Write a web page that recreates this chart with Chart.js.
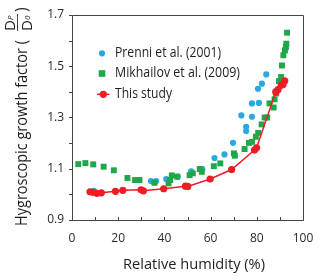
<!DOCTYPE html>
<html>
<head>
<meta charset="utf-8">
<script src="https://cdn.jsdelivr.net/npm/chart.js@4/dist/chart.umd.min.js"></script>
<style>
html,body{margin:0;padding:0;background:#fff;}
#wrap{width:320px;height:276px;}
</style>
</head>
<body>
<div id="wrap"><canvas id="c" width="320" height="276"></canvas></div>
<script>
// ---- Data ----
const prenniRH = [9.4, 34.2, 36.4, 40.8, 45.8, 51.6, 56.4, 61.7, 66.0, 69.7, 73.3, 75.4, 75.4, 77.9, 77.9, 80.5, 80.9, 82.2, 84.1];
const prenniGF = [1.014, 1.052, 1.052, 1.060, 1.069, 1.090, 1.099, 1.142, 1.156, 1.201, 1.308, 1.264, 1.247, 1.303, 1.355, 1.412, 1.357, 1.432, 1.468];

const mikhRH = [2.7, 5.8, 9.2, 13.7, 18.1, 24.0, 27.3, 29.2, 35.7, 41.8, 42.5, 43.2, 45.5, 50.9, 52.3, 55.3, 56.2, 61.4, 64.2, 70.1, 70.5, 74.7, 76.6, 77.9, 79.6, 80.6, 82.1, 83.4, 84.5, 85.5, 87.3, 87.7, 88.4, 89.6, 90.5, 90.9, 91.5, 92.2, 92.6, 92.8, 93.1];
const mikhGF = [1.118, 1.122, 1.117, 1.108, 1.094, 1.064, 1.056, 1.056, 1.045, 1.043, 1.056, 1.074, 1.069, 1.075, 1.082, 1.099, 1.088, 1.110, 1.121, 1.160, 1.151, 1.177, 1.201, 1.205, 1.225, 1.240, 1.273, 1.300, 1.300, 1.355, 1.339, 1.371, 1.394, 1.442, 1.458, 1.503, 1.543, 1.562, 1.575, 1.588, 1.631];

const studyRH = [7.8, 9.0, 10.8, 12.7, 18.8, 22.0, 29.9, 30.9, 39.7, 49.1, 50.1, 59.8, 69.1, 79.0, 79.9, 88.2, 89.2, 90.6, 91.3, 92.1];
const studyGF = [1.010, 1.008, 1.004, 1.006, 1.012, 1.016, 1.018, 1.014, 1.022, 1.032, 1.031, 1.060, 1.097, 1.173, 1.182, 1.400, 1.409, 1.426, 1.429, 1.443];

const seriesNames = ["Prenni et al. (2001)", "Mikhailov et al. (2009)", "This study"];
const xTickLabels = [0, 20, 40, 60, 80, 100];
const yTickLabels = [0.9, 1.1, 1.3, 1.5, 1.7];
const xMinorTicks = [0, 10, 20, 30, 40, 50, 60, 70, 80, 90, 100];
const yMinorTicks = [0.9, 1.0, 1.1, 1.2, 1.3, 1.4, 1.5, 1.6, 1.7];
const xTitle = "Relative humidity (%)";
const yTitle = "Hygroscopic growth factor (";

const toXY = (xs, ys) => xs.map((x, i) => ({x: x, y: ys[i]}));

const BLUE = '#2AA9E0', GREEN = '#1FA84A', RED = '#EE1C25';
const AXIS = '#444', TXT = '#1e1e1e', TICKTXT = '#2a2a2a';
const FONT = "'Open Sans', 'Noto Sans', sans-serif";

// draw text squeezed/stretched horizontally to a target width
function fitText(ctx, text, x, y, targetW, align) {
  const w = ctx.measureText(text).width;
  const sx = targetW / w;
  ctx.save();
  ctx.translate(x, y);
  ctx.scale(sx, 1);
  ctx.textAlign = 'left';
  let ox = 0;
  if (align === 'center') ox = -w / 2;
  else if (align === 'right') ox = -w;
  ctx.fillText(text, ox, 0);
  ctx.restore();
  return targetW;
}

const framePlugin = {
  id: 'frame',
  afterDraw(chart) {
    const ctx = chart.ctx, a = chart.chartArea;
    const xs = chart.scales.x, ys = chart.scales.y;
    ctx.save();
    ctx.strokeStyle = AXIS; ctx.lineWidth = 1;
    const L = Math.round(a.left), R = Math.round(a.right), T = Math.round(a.top), B = Math.round(a.bottom);
    ctx.beginPath();
    ctx.rect(L + 0.5, T + 0.5, R - L, B - T);
    ctx.stroke();
    ctx.beginPath();
    yMinorTicks.forEach(v => {
      const py = Math.round(ys.getPixelForValue(v)) + 0.5;
      ctx.moveTo(L - 3, py); ctx.lineTo(L + 0.5, py);
    });
    xMinorTicks.forEach(v => {
      const px = Math.round(xs.getPixelForValue(v)) + 0.5;
      ctx.moveTo(px, B + 0.5); ctx.lineTo(px, B - 3);
    });
    ctx.stroke();

    // tick labels
    ctx.fillStyle = TICKTXT;
    ctx.font = "12px " + FONT;
    ctx.textBaseline = 'middle';
    ctx.textAlign = 'right';
    yTickLabels.forEach(v => ctx.fillText(v.toFixed(1), 64, ys.getPixelForValue(v)));
    ctx.textAlign = 'center';
    xTickLabels.forEach(v => ctx.fillText(String(v), xs.getPixelForValue(v), 239));

    // x title
    ctx.fillStyle = TXT;
    ctx.font = "14px " + FONT;
    ctx.textBaseline = 'middle';
    fitText(ctx, xTitle, 194, 265, 142, 'center');

    // y title (rotated)
    ctx.save();
    ctx.translate(27, 226);
    ctx.rotate(-Math.PI / 2);
    ctx.textBaseline = 'alphabetic';
    ctx.font = "15.5px " + FONT;
    fitText(ctx, yTitle, 0, 0, 186, 'left');
    // fraction D_P / D_0
    const fx = 195;
    ctx.font = "15px " + FONT;
    ctx.textAlign = 'left';
    ctx.fillText("D", fx, -12);
    ctx.fillText("D", fx, 5);
    const dw = ctx.measureText("D").width;
    ctx.font = "italic 8px " + FONT;
    ctx.fillText("P", fx + dw, -14);
    ctx.fillText("0", fx + dw, 3);
    ctx.beginPath();
    ctx.lineWidth = 1;
    ctx.moveTo(fx, -9.5); ctx.lineTo(fx + dw + 6, -9.5);
    ctx.stroke();
    ctx.font = "15.5px " + FONT;
    ctx.fillText(")", fx + dw + 8, 0);
    ctx.restore();

    // legend
    ctx.font = "14px " + FONT;
    ctx.textBaseline = 'middle';
    const ds = chart.data.datasets;
    const rows = [53.3, 73.5, 94.3];
    const widths = [106, 125, 57];
    ds.forEach((d, r) => {
      const y = rows[r], mx = 102;
      if (d.showLine) {
        ctx.strokeStyle = d.borderColor; ctx.lineWidth = 1.5;
        ctx.beginPath(); ctx.moveTo(97, y); ctx.lineTo(109.5, y); ctx.stroke();
      }
      ctx.fillStyle = d.pointBackgroundColor;
      if (d.pointStyle === 'rect') {
        ctx.fillRect(mx - 3.3, y - 3.3, 6.6, 6.6);
      } else {
        ctx.beginPath(); ctx.arc(d.showLine ? 103.3 : mx, y, d.pointRadius, 0, Math.PI * 2); ctx.fill();
      }
      ctx.fillStyle = TXT;
      fitText(ctx, d.label, 115, y, widths[r], 'left');
    });
    ctx.restore();
  }
};

new Chart(document.getElementById('c'), {
  type: 'scatter',
  data: {
    datasets: [
      { label: seriesNames[0], data: toXY(prenniRH, prenniGF), pointStyle: 'circle', pointRadius: 3.1,
        pointBackgroundColor: BLUE, backgroundColor: BLUE, pointBorderWidth: 0, borderColor: BLUE, showLine: false, order: 3 },
      { label: seriesNames[1], data: toXY(mikhRH, mikhGF), pointStyle: 'rect', pointRadius: 4.2,
        pointBackgroundColor: GREEN, backgroundColor: GREEN, pointBorderWidth: 0, borderColor: GREEN, showLine: false, order: 2 },
      { label: seriesNames[2], data: toXY(studyRH, studyGF), pointStyle: 'circle', pointRadius: 3.6,
        pointBackgroundColor: RED, backgroundColor: RED, pointBorderWidth: 0, borderColor: RED, borderWidth: 1.5,
        showLine: true, order: 1 }
    ]
  },
  options: {
    responsive: false,
    animation: false,
    layout: { padding: { top: 15, right: 17, left: 0, bottom: 0 } },
    plugins: { legend: { display: false }, tooltip: { enabled: false } },
    scales: {
      x: {
        type: 'linear', min: 0, max: 100,
        grid: { display: false }, border: { display: false },
        afterFit(s) { s.height = 56; },
        ticks: { display: false, stepSize: 10 }
      },
      y: {
        type: 'linear', min: 0.9, max: 1.7,
        grid: { display: false }, border: { display: false },
        afterFit(s) { s.width = 72; },
        ticks: { display: false, stepSize: 0.1 }
      }
    }
  },
  plugins: [framePlugin]
});
</script>
</body>
</html>
